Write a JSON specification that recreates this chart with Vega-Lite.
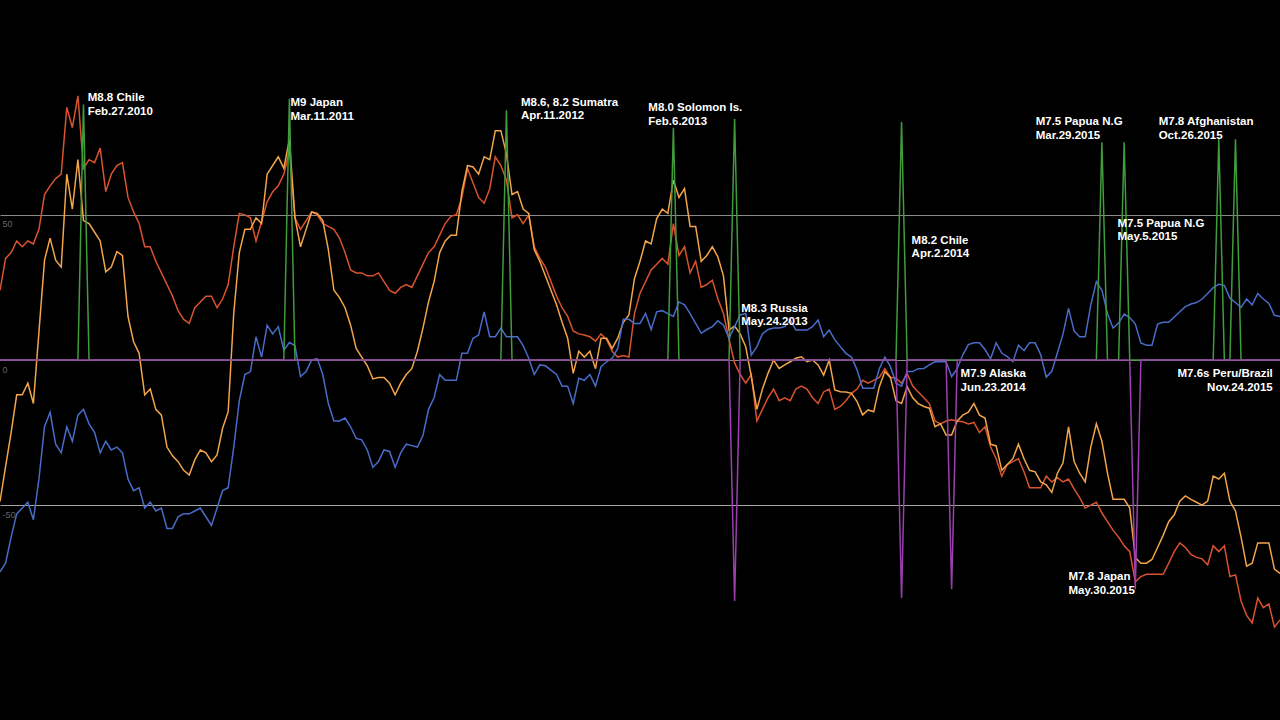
{
  "$schema": "https://vega.github.io/schema/vega-lite/v6.json",
  "width": 1280,
  "height": 720,
  "autosize": {"type": "none"},
  "padding": 0,
  "background": "#000000",
  "config": {
    "view": {"stroke": null}
  },
  "datasets": {
    "series": [
      {"t":0,"s1":24,"s2":-48.7,"s3":-73},{"t":1,"s1":35,"s2":-36.7,"s3":-70},{"t":2,"s1":37,"s2":-25,"s3":-61},{"t":3,"s1":41,"s2":-12,"s3":-53},
      {"t":4,"s1":39,"s2":-12,"s3":-51},{"t":5,"s1":41,"s2":-8,"s3":-49},{"t":6,"s1":40,"s2":-15,"s3":-55},{"t":7,"s1":45,"s2":9.7,"s3":-41},
      {"t":8,"s1":57,"s2":34.4,"s3":-23},{"t":9,"s1":60,"s2":42,"s3":-18},{"t":10,"s1":62.5,"s2":34.4,"s3":-29},{"t":11,"s1":64,"s2":32,"s3":-32},
      {"t":12,"s1":87,"s2":64,"s3":-23},{"t":13,"s1":80,"s2":52,"s3":-28},{"t":14,"s1":91,"s2":69,"s3":-19},{"t":15,"s1":66,"s2":48,"s3":-17},
      {"t":16,"s1":69,"s2":47,"s3":-22},{"t":17,"s1":68,"s2":44,"s3":-25},{"t":18,"s1":73,"s2":41,"s3":-32},{"t":19,"s1":58,"s2":30.4,"s3":-28},
      {"t":20,"s1":64,"s2":32,"s3":-31},{"t":21,"s1":67,"s2":37.3,"s3":-30},{"t":22,"s1":68,"s2":36,"s3":-32},{"t":23,"s1":56,"s2":15,"s3":-41},
      {"t":24,"s1":51,"s2":6.3,"s3":-45},{"t":25,"s1":47,"s2":2.3,"s3":-44},{"t":26,"s1":39,"s2":-12,"s3":-51},{"t":27,"s1":39,"s2":-10,"s3":-49},
      {"t":28,"s1":34,"s2":-17,"s3":-52},{"t":29,"s1":30,"s2":-19,"s3":-51},{"t":30,"s1":26,"s2":-30,"s3":-58},{"t":31,"s1":22,"s2":-33,"s3":-58},
      {"t":32,"s1":17,"s2":-35,"s3":-54},{"t":33,"s1":14,"s2":-38,"s3":-53},{"t":34,"s1":12.6,"s2":-39.6,"s3":-53},{"t":35,"s1":18,"s2":-34.4,"s3":-52},
      {"t":36,"s1":20,"s2":-31,"s3":-51},{"t":37,"s1":22,"s2":-32,"s3":-54},{"t":38,"s1":22,"s2":-35,"s3":-57},{"t":39,"s1":18,"s2":-32.7,"s3":-51},
      {"t":40,"s1":21,"s2":-23.5,"s3":-45},{"t":41,"s1":26,"s2":-17.8,"s3":-44},{"t":42,"s1":39,"s2":16,"s3":-30},{"t":43,"s1":50.5,"s2":37,"s3":-14},
      {"t":44,"s1":50,"s2":45,"s3":-5},{"t":45,"s1":49,"s2":45,"s3":-4},{"t":46,"s1":41,"s2":49,"s3":8},{"t":47,"s1":47.6,"s2":47,"s3":1},
      {"t":48,"s1":54.5,"s2":64,"s3":12},{"t":49,"s1":58,"s2":67,"s3":9},{"t":50,"s1":60,"s2":70,"s3":11.5},{"t":51,"s1":64,"s2":66,"s3":3.4},
      {"t":52,"s1":72,"s2":76,"s3":6},{"t":53,"s1":49,"s2":49,"s3":5},{"t":54,"s1":45,"s2":39,"s3":-5.7},{"t":55,"s1":48,"s2":45,"s3":-4},
      {"t":56,"s1":51,"s2":51,"s3":0},{"t":57,"s1":50,"s2":50.5,"s3":0.5},{"t":58,"s1":47,"s2":48,"s3":-5},{"t":59,"s1":46,"s2":38,"s3":-15},
      {"t":60,"s1":45,"s2":24,"s3":-21},{"t":61,"s1":42,"s2":21.5,"s3":-21},{"t":62,"s1":37,"s2":18,"s3":-20},{"t":63,"s1":31,"s2":12,"s3":-23},
      {"t":64,"s1":30,"s2":4,"s3":-27},{"t":65,"s1":30,"s2":1,"s3":-27.5},{"t":66,"s1":29,"s2":-2,"s3":-31},{"t":67,"s1":29,"s2":-6.5,"s3":-37},
      {"t":68,"s1":30,"s2":-6,"s3":-35},{"t":69,"s1":27,"s2":-6,"s3":-31},{"t":70,"s1":24,"s2":-8,"s3":-31.5},{"t":71,"s1":23,"s2":-12,"s3":-37},
      {"t":72,"s1":25,"s2":-8,"s3":-32},{"t":73,"s1":26,"s2":-5,"s3":-29},{"t":74,"s1":25,"s2":-3,"s3":-29.5},{"t":75,"s1":29,"s2":3,"s3":-30},
      {"t":76,"s1":33,"s2":11,"s3":-26},{"t":77,"s1":37,"s2":20,"s3":-17},{"t":78,"s1":39,"s2":27,"s3":-13},{"t":79,"s1":43,"s2":37,"s3":-5},
      {"t":80,"s1":47,"s2":41,"s3":-7},{"t":81,"s1":49.5,"s2":43,"s3":-7},{"t":82,"s1":50,"s2":43,"s3":-7},{"t":83,"s1":56,"s2":58,"s3":2.3},
      {"t":84,"s1":66,"s2":67,"s3":2.3},{"t":85,"s1":61,"s2":66.5,"s3":7.5},{"t":86,"s1":56,"s2":64,"s3":8.6},{"t":87,"s1":54,"s2":70,"s3":16.6},
      {"t":88,"s1":59,"s2":69,"s3":8},{"t":89,"s1":70,"s2":79,"s3":8},{"t":90,"s1":67,"s2":79,"s3":11},{"t":91,"s1":62,"s2":71,"s3":8},
      {"t":92,"s1":49,"s2":57,"s3":8},{"t":93,"s1":50,"s2":58,"s3":8},{"t":94,"s1":47,"s2":52,"s3":5},{"t":95,"s1":50,"s2":50.5,"s3":0.6},
      {"t":96,"s1":39,"s2":38,"s3":-5},{"t":97,"s1":35,"s2":34,"s3":-1.7},{"t":98,"s1":32,"s2":29,"s3":-2},{"t":99,"s1":27,"s2":24,"s3":-3.5},
      {"t":100,"s1":22,"s2":19,"s3":-5},{"t":101,"s1":18,"s2":13,"s3":-9},{"t":102,"s1":15,"s2":7.5,"s3":-9},{"t":103,"s1":10,"s2":-4.6,"s3":-15},
      {"t":104,"s1":9,"s2":3,"s3":-6.3},{"t":105,"s1":8.6,"s2":1,"s3":-7},{"t":106,"s1":8,"s2":3,"s3":-5},{"t":107,"s1":6.5,"s2":-3,"s3":-9},
      {"t":108,"s1":9,"s2":7.5,"s3":-2.3},{"t":109,"s1":7,"s2":7.5,"s3":-0.6},{"t":110,"s1":3,"s2":4,"s3":0.6},{"t":111,"s1":1,"s2":7.5,"s3":4},
      {"t":112,"s1":1.5,"s2":13,"s3":14},{"t":113,"s1":1,"s2":15.5,"s3":14},{"t":114,"s1":16,"s2":28,"s3":12.6},{"t":115,"s1":23,"s2":34,"s3":12.6},
      {"t":116,"s1":27,"s2":41,"s3":16},{"t":117,"s1":31,"s2":40,"s3":10.5},{"t":118,"s1":33,"s2":48.7,"s3":16.6},{"t":119,"s1":35,"s2":52,"s3":17},
      {"t":120,"s1":33,"s2":50.5,"s3":16},{"t":121,"s1":47,"s2":62,"s3":15},{"t":122,"s1":36,"s2":56,"s3":20},{"t":123,"s1":39,"s2":59,"s3":19},
      {"t":124,"s1":30,"s2":46,"s3":16},{"t":125,"s1":34,"s2":46,"s3":12.6},{"t":126,"s1":25,"s2":34,"s3":9.2},{"t":127,"s1":26,"s2":36,"s3":10.5},
      {"t":128,"s1":27.5,"s2":39,"s3":11.5},{"t":129,"s1":21,"s2":35.5,"s3":13.5},{"t":130,"s1":16,"s2":29,"s3":12},{"t":131,"s1":7,"s2":10.3,"s3":7.5},
      {"t":132,"s1":-1,"s2":11.7,"s3":11.5},{"t":133,"s1":-5,"s2":9,"s3":15.5},{"t":134,"s1":-8,"s2":4.6,"s3":16},{"t":135,"s1":-5,"s2":-5.7,"s3":1.7},
      {"t":136,"s1":-21,"s2":-17,"s3":4.6},{"t":137,"s1":-17,"s2":-10,"s3":9},{"t":138,"s1":-13,"s2":-4.6,"s3":10.5},{"t":139,"s1":-10,"s2":0,"s3":11},
      {"t":140,"s1":-14,"s2":-2.9,"s3":11},{"t":141,"s1":-13,"s2":-1.7,"s3":11.5},{"t":142,"s1":-14,"s2":-0.6,"s3":13.8},{"t":143,"s1":-10,"s2":0.6,"s3":10.3},
      {"t":144,"s1":-9,"s2":1.1,"s3":10.3},{"t":145,"s1":-10,"s2":-0.6,"s3":10.3},{"t":146,"s1":-13,"s2":0,"s3":11.5},{"t":147,"s1":-15,"s2":-1.7,"s3":13.8},
      {"t":148,"s1":-11,"s2":-5.2,"s3":8},{"t":149,"s1":-10,"s2":0,"s3":10.3},{"t":150,"s1":-17,"s2":-10.3,"s3":7},{"t":151,"s1":-16,"s2":-10.9,"s3":4.6},
      {"t":152,"s1":-14,"s2":-11,"s3":2.3},{"t":153,"s1":-11.5,"s2":-11.5,"s3":1},{"t":154,"s1":-10,"s2":-14.3,"s3":-3.4},{"t":155,"s1":-7,"s2":-18.9,"s3":-9.7},
      {"t":156,"s1":-8,"s2":-17.2,"s3":-9.7},{"t":157,"s1":-7,"s2":-17.8,"s3":-9.7},{"t":158,"s1":-6,"s2":-9.2,"s3":-3},{"t":159,"s1":-3,"s2":-4,"s3":1},
      {"t":160,"s1":-6,"s2":-6,"s3":-2.3},{"t":161,"s1":-6.3,"s2":-14,"s3":-8},{"t":162,"s1":-8,"s2":-15,"s3":-9},{"t":163,"s1":-4.6,"s2":-9.2,"s3":-4},
      {"t":164,"s1":-9,"s2":-13,"s3":-4},{"t":165,"s1":-11,"s2":-15,"s3":-3},{"t":166,"s1":-13,"s2":-16,"s3":-2.9},{"t":167,"s1":-15,"s2":-16.6,"s3":-1.7},
      {"t":168,"s1":-21,"s2":-23,"s3":-0.6},{"t":169,"s1":-22,"s2":-22,"s3":-0.6},{"t":170,"s1":-21,"s2":-25.8,"s3":-0.6},{"t":171,"s1":-20.6,"s2":-25.8,"s3":-5.7},
      {"t":172,"s1":-21,"s2":-21,"s3":-3},{"t":173,"s1":-21.3,"s2":-19,"s3":1.8},{"t":174,"s1":-22,"s2":-18,"s3":5.3},{"t":175,"s1":-21.5,"s2":-15,"s3":5.9},
      {"t":176,"s1":-25,"s2":-19,"s3":5.9},{"t":177,"s1":-23,"s2":-20,"s3":3.6},{"t":178,"s1":-30,"s2":-29,"s3":0.4},{"t":179,"s1":-34,"s2":-29.6,"s3":5.9},
      {"t":180,"s1":-40,"s2":-38,"s3":2.4},{"t":181,"s1":-36,"s2":-36,"s3":1.2},{"t":182,"s1":-35,"s2":-34,"s3":-0.6},{"t":183,"s1":-34,"s2":-29,"s3":5.1},
      {"t":184,"s1":-38.5,"s2":-34,"s3":3.2},{"t":185,"s1":-44,"s2":-38,"s3":5.9},{"t":186,"s1":-44,"s2":-38.5,"s3":5.9},{"t":187,"s1":-44,"s2":-42,"s3":1.8},
      {"t":188,"s1":-40,"s2":-43,"s3":-5.9},{"t":189,"s1":-42,"s2":-45.6,"s3":-3.9},{"t":190,"s1":-40.5,"s2":-39,"s3":2.4},{"t":191,"s1":-42,"s2":-35.5,"s3":8.9},
      {"t":192,"s1":-41,"s2":-23,"s3":17.8},{"t":193,"s1":-44.4,"s2":-35,"s3":10},{"t":194,"s1":-47.4,"s2":-39,"s3":8},{"t":195,"s1":-51,"s2":-42,"s3":8},
      {"t":196,"s1":-50,"s2":-30,"s3":19},{"t":197,"s1":-49,"s2":-22,"s3":27},{"t":198,"s1":-52.7,"s2":-28,"s3":24},{"t":199,"s1":-55.7,"s2":-39,"s3":16},
      {"t":200,"s1":-58.6,"s2":-48,"s3":11},{"t":201,"s1":-61,"s2":-48,"s3":12.7},{"t":202,"s1":-64,"s2":-48,"s3":15.8},{"t":203,"s1":-66,"s2":-51,"s3":14.6},
      {"t":204,"s1":-76.4,"s2":-68,"s3":12.4},{"t":205,"s1":-74.6,"s2":-70,"s3":5.9},{"t":206,"s1":-73.8,"s2":-70,"s3":5.1},{"t":207,"s1":-73.8,"s2":-68.7,"s3":5.1},
      {"t":208,"s1":-73.8,"s2":-64.6,"s3":12.4},{"t":209,"s1":-73.8,"s2":-60.4,"s3":13},{"t":210,"s1":-70,"s2":-55.7,"s3":13},{"t":211,"s1":-66,"s2":-53.3,"s3":14.8},
      {"t":212,"s1":-63,"s2":-48.6,"s3":16.6},{"t":213,"s1":-64.6,"s2":-46.8,"s3":18.4},{"t":214,"s1":-67,"s2":-48,"s3":19.3},{"t":215,"s1":-68,"s2":-49,"s3":19.8},
      {"t":216,"s1":-68.5,"s2":-50,"s3":21},{"t":217,"s1":-70.5,"s2":-48.6,"s3":22.9},{"t":218,"s1":-64,"s2":-40,"s3":24.9},{"t":219,"s1":-66,"s2":-41,"s3":26.1},
      {"t":220,"s1":-64,"s2":-39,"s3":25.7},{"t":221,"s1":-74.6,"s2":-48.6,"s3":21.3},{"t":222,"s1":-74,"s2":-52,"s3":19.8},{"t":223,"s1":-83,"s2":-61,"s3":18.1},
      {"t":224,"s1":-88,"s2":-71,"s3":21},{"t":225,"s1":-90.6,"s2":-70,"s3":19},{"t":226,"s1":-82,"s2":-63,"s3":22.9},{"t":227,"s1":-85.3,"s2":-63,"s3":21},
      {"t":228,"s1":-84,"s2":-63,"s3":19.5},{"t":229,"s1":-92,"s2":-72,"s3":15.4},{"t":230,"s1":-89.5,"s2":-73.5,"s3":15}
    ],
    "quakes": [
      {"k":"up","t":0,"v":0},{"k":"up","t":14,"v":0},{"k":"up","t":15,"v":88},{"k":"up","t":16,"v":0},
      {"k":"up","t":51,"v":0},{"k":"up","t":52,"v":90},{"k":"up","t":53,"v":0},
      {"k":"up","t":90,"v":0},{"k":"up","t":91,"v":86},{"k":"up","t":92,"v":0},
      {"k":"up","t":120,"v":0},{"k":"up","t":121,"v":80},{"k":"up","t":122,"v":0},
      {"k":"up","t":131,"v":0},{"k":"up","t":132,"v":83},{"k":"up","t":133,"v":0},
      {"k":"up","t":161,"v":0},{"k":"up","t":162,"v":82},{"k":"up","t":163,"v":0},
      {"k":"up","t":197,"v":0},{"k":"up","t":198,"v":75},{"k":"up","t":199,"v":0},
      {"k":"up","t":201,"v":0},{"k":"up","t":202,"v":75},{"k":"up","t":203,"v":0},
      {"k":"up","t":218,"v":0},{"k":"up","t":219,"v":76},{"k":"up","t":220,"v":0},
      {"k":"up","t":221,"v":0},{"k":"up","t":222,"v":76},{"k":"up","t":223,"v":0},
      {"k":"up","t":230,"v":0},
      {"k":"down","t":0,"v":0},
      {"k":"down","t":131,"v":0},{"k":"down","t":132,"v":-83},{"k":"down","t":133,"v":0},
      {"k":"down","t":161,"v":0},{"k":"down","t":162,"v":-82},{"k":"down","t":163,"v":0},
      {"k":"down","t":170,"v":0},{"k":"down","t":171,"v":-79},{"k":"down","t":172,"v":0},
      {"k":"down","t":203,"v":0},{"k":"down","t":204,"v":-79},{"k":"down","t":205,"v":0},
      {"k":"down","t":230,"v":0}
    ],
    "labels_left": [
      {"t":15.75,"v":89.2,"label":"M8.8 Chile\nFeb.27.2010"},
      {"t":52.2,"v":87.4,"label":"M9 Japan\nMar.11.2011"},
      {"t":93.6,"v":87.5,"label":"M8.6, 8.2 Sumatra\nApr.11.2012"},
      {"t":116.5,"v":85.7,"label":"M8.0 Solomon Is.\nFeb.6.2013"},
      {"t":133.2,"v":16.6,"label":"M8.3 Russia\nMay.24.2013"},
      {"t":163.8,"v":40.1,"label":"M8.2 Chile\nApr.2.2014"},
      {"t":172.6,"v":-6.0,"label":"M7.9 Alaska\nJun.23.2014"},
      {"t":186.1,"v":80.9,"label":"M7.5 Papua N.G\nMar.29.2015"},
      {"t":200.8,"v":45.9,"label":"M7.5 Papua N.G\nMay.5.2015"},
      {"t":192.0,"v":-75.8,"label":"M7.8 Japan\nMay.30.2015"},
      {"t":208.2,"v":80.9,"label":"M7.8 Afghanistan\nOct.26.2015"}
    ],
    "labels_right": [
      {"t":228.7,"v":-5.9,"label":"M7.6s Peru/Brazil\nNov.24.2015"}
    ]
  },
  "encoding": {
    "x": {"field": "t", "type": "quantitative", "scale": {"domain": [0, 230], "nice": false, "zero": false}, "axis": null},
    "y": {
      "field": "v", "type": "quantitative",
      "scale": {"domain": [-124, 124], "nice": false, "zero": false},
      "axis": {
        "values": [-50, 0, 50], "title": null, "domain": false, "ticks": false, "tickSize": 0,
        "grid": true, "gridColor": {"condition": {"test": "datum.value < 0", "value": "#a8a8a0"}, "value": "#8a8a8a"}, "gridWidth": 1.1,
        "labelExpr": "'' + datum.value", "labelColor": "#666666", "labelFont": "Liberation Sans", "labelFontSize": 9,
        "labelAlign": "left", "labelBaseline": "top", "labelPadding": -2, "labelOffset": 5
      }
    }
  },
  "layer": [
    {
      "data": {"name": "series"},
      "transform": [{"fold": ["s1", "s2", "s3"], "as": ["s", "v"]}],
      "mark": {"type": "line", "strokeWidth": 1.5},
      "encoding": {
        "color": {"field": "s", "type": "nominal", "scale": {"domain": ["s1", "s2", "s3"], "range": ["#d9532e", "#f2a54a", "#4a6cc9"]}, "legend": null}
      }
    },
    {
      "data": {"name": "quakes"},
      "transform": [{"filter": "datum.k == 'up'"}],
      "mark": {"type": "line", "strokeWidth": 1.5, "color": "#419c3c"},
      "encoding": {}
    },
    {
      "data": {"name": "quakes"},
      "transform": [{"filter": "datum.k == 'down'"}],
      "mark": {"type": "line", "strokeWidth": 1.5, "color": "#9a3fad"},
      "encoding": {}
    },
    {
      "data": {"name": "labels_left"},
      "mark": {"type": "text", "align": "left", "baseline": "alphabetic", "lineBreak": "\n", "lineHeight": 13.5, "font": "Liberation Sans", "fontWeight": "bold", "fontSize": 11.5, "color": "#ffffff"},
      "encoding": {"text": {"field": "label"}}
    },
    {
      "data": {"name": "labels_right"},
      "mark": {"type": "text", "align": "right", "baseline": "alphabetic", "lineBreak": "\n", "lineHeight": 13.5, "font": "Liberation Sans", "fontWeight": "bold", "fontSize": 11.5, "color": "#ffffff"},
      "encoding": {"text": {"field": "label"}}
    }
  ]
}
